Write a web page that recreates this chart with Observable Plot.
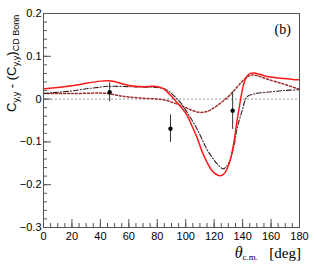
<!DOCTYPE html>
<html>
<head>
<meta charset="utf-8">
<script src="https://cdn.jsdelivr.net/npm/d3@7"></script>
<script src="https://cdn.jsdelivr.net/npm/@observablehq/plot@0.6"></script>
<style>
  html, body { margin: 0; padding: 0; background: #fff; }
  #chart svg { display: block; }
</style>
</head>
<body>
<div id="chart"></div>
<script>
// Red solid curve
const redX = [0, 10, 20, 30, 40, 45, 50, 55, 60, 70, 77, 84, 89, 93, 97, 101, 104, 108, 111, 115, 118, 121, 124, 126, 128, 130, 131.5, 133, 134.5, 136, 138.5, 140.8, 143, 145.5, 148, 152, 157, 163, 169, 175, 180];
const redY = [0.024, 0.027, 0.031, 0.037, 0.042, 0.043, 0.041, 0.036, 0.032, 0.029, 0.030, 0.025, 0.010, -0.005, -0.020, -0.038, -0.060, -0.090, -0.118, -0.148, -0.165, -0.175, -0.179, -0.177, -0.170, -0.155, -0.140, -0.117, -0.088, -0.052, -0.003, 0.036, 0.053, 0.060, 0.061, 0.058, 0.053, 0.050, 0.048, 0.046, 0.045];

// Dark dash-dot curve
const ddX = [0, 10, 20, 30, 40, 45, 50, 60, 70, 80, 85, 89, 96, 101, 108, 115, 119, 122, 126.4, 130, 134, 136, 139.7, 143, 148, 157, 169, 180];
const ddY = [0.013, 0.016, 0.019, 0.024, 0.028, 0.030, 0.030, 0.029, 0.028, 0.027, 0.024, 0.016, -0.007, -0.031, -0.070, -0.118, -0.138, -0.151, -0.163, -0.151, -0.108, -0.070, -0.027, 0.005, 0.012, 0.016, 0.020, 0.022];

// Dark red dotted curve
const dotX = [0, 20, 40, 45, 50, 55, 60, 70, 80, 85, 90, 95, 100, 105, 110, 115, 120, 125, 130, 134, 138, 142, 146, 150, 157, 169, 180];
const dotY = [0.013, 0.013, 0.014, 0.013, 0.010, 0.007, 0.005, 0.002, 0.000, -0.002, -0.007, -0.013, -0.020, -0.027, -0.031, -0.029, -0.020, -0.008, 0.006, 0.020, 0.035, 0.049, 0.056, 0.055, 0.047, 0.035, 0.023];

// Data points with errors
const ptX = [46.5, 89.3, 133];
const ptY = [0.016, -0.069, -0.027];
const ptErr = [0.022, 0.032, 0.044];

// Ticks
const xMajor = [0, 20, 40, 60, 80, 100, 120, 140, 160, 180];
const xMinor = d3.range(0, 181, 5);
const yMajor = [-0.3, -0.2, -0.1, 0, 0.1, 0.2];
const yMinor = d3.range(-0.3, 0.2001, 0.02).map(v => Math.round(v * 100) / 100);

const toRows = (xs, ys) => xs.map((x, i) => ({x, y: ys[i]}));
const red = toRows(redX, redY);
const dd = toRows(ddX, ddY);
const dot = toRows(dotX, dotY);
const pts = ptX.map((x, i) => ({x, y: ptY[i], lo: ptY[i] - ptErr[i], hi: ptY[i] + ptErr[i]}));

const W = 315, H = 267;
const mL = 43, mR = 16, mT = 13, mB = 40;
const innerW = W - mL - mR, innerH = H - mT - mB;

const fmtY = d => d === 0 ? "0" : d.toFixed(1).replace("-", "\u2212");

const chart = Plot.plot({
  width: W,
  height: H,
  marginLeft: mL,
  marginRight: mR,
  marginTop: mT,
  marginBottom: mB,
  style: {fontFamily: "'Liberation Sans', Arial, Helvetica, sans-serif", fontSize: "11px", background: "#fff", color: "#000"},
  x: {domain: [0, 180], label: null},
  y: {domain: [-0.3, 0.2], label: null},
  marks: [
    Plot.ruleY([0], {stroke: "#999", strokeWidth: 1, strokeDasharray: "2,2"}),
    Plot.line(dot, {x: "x", y: "y", curve: "catmull-rom", stroke: "#a02c2c", strokeWidth: 1.5, strokeDasharray: "2,2"}),
    Plot.line(dd, {x: "x", y: "y", curve: "catmull-rom", stroke: "#3a2020", strokeWidth: 1.1, strokeDasharray: "5,2,1,2"}),
    Plot.line(red, {x: "x", y: "y", curve: "catmull-rom", stroke: "#ff1a1a", strokeWidth: 1.5}),
    Plot.ruleX(pts, {x: "x", y1: "lo", y2: "hi", stroke: "#333", strokeWidth: 1}),
    Plot.dot(pts, {x: "x", y: "y", r: 2.2, fill: "#000", stroke: "none"}),
    // inner ticks
    Plot.tickY(yMinor, {y: d => d, insetRight: innerW - 4, stroke: "#555"}),
    Plot.tickY(yMajor, {y: d => d, insetRight: innerW - 8, stroke: "#555"}),
    Plot.tickX(xMinor, {x: d => d, insetTop: innerH - 4, stroke: "#555"}),
    Plot.tickX(xMajor, {x: d => d, insetTop: innerH - 8, stroke: "#555"}),
    Plot.axisY(yMajor, {tickSize: 0, tickPadding: 2, tickFormat: fmtY, fontSize: 11, label: null}),
    Plot.axisX(xMajor, {tickSize: 0, tickPadding: 5, tickFormat: d => String(d), fontSize: 11, label: null}),
    Plot.frame({stroke: "#555", strokeWidth: 1}),
    Plot.text(["(b)"], {frameAnchor: "top-right", dx: -25, dy: 11, fontFamily: "'Liberation Serif', 'Times New Roman', serif", fontSize: 14, textAnchor: "start"})
  ]
});

document.getElementById("chart").appendChild(chart);

const svg = d3.select(chart);
// y-axis title
const yl = svg.append("text")
  .attr("transform", "translate(16,112) rotate(-90)")
  .attr("text-anchor", "start")
  .attr("font-family", "'Liberation Sans', Arial, Helvetica, sans-serif")
  .attr("font-size", 13)
  .attr("fill", "#000");
yl.append("tspan").text("C");
yl.append("tspan").attr("font-size", 9).attr("dy", 3).text("y,y");
yl.append("tspan").attr("dy", -3).text(" - (C");
yl.append("tspan").attr("font-size", 9).attr("dy", 3).text("y,y");
yl.append("tspan").attr("dy", -3).text(")");
yl.append("tspan").attr("font-size", 9).attr("dy", 3).text("CD Bonn");

// x-axis title
const xl = svg.append("text")
  .attr("x", 301).attr("y", 258)
  .attr("text-anchor", "end")
  .attr("font-family", "'Liberation Serif', 'Times New Roman', serif")
  .attr("font-size", 15)
  .attr("fill", "#000");
xl.append("tspan").attr("font-style", "italic").attr("font-size", 16).text("\u03b8");
xl.append("tspan").attr("font-size", 9).attr("dy", 2).text("c.m.");
xl.append("tspan").attr("dy", -2).text("\u2002 [deg]");
</script>
</body>
</html>
